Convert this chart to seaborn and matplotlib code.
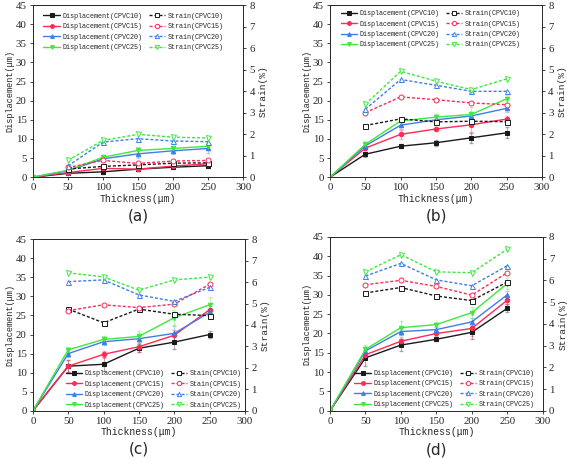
import numpy as np
import pandas as pd
import seaborn as sns
import matplotlib.pyplot as plt

# thickness values
thick = [0, 50, 100, 150, 200, 250]
thick_s = [50, 100, 150, 200, 250]
groups = ["CPVC10", "CPVC15", "CPVC20", "CPVC25"]

# displacement (um), per panel, per group
disp_a = [[0, 1.0, 1.4, 2.1, 2.6, 3.0],
          [0, 1.2, 2.3, 2.1, 2.9, 3.5],
          [0, 1.7, 4.8, 6.1, 6.9, 7.5],
          [0, 1.8, 5.2, 7.0, 7.5, 8.1]]
disp_b = [[0, 6.0, 8.1, 9.0, 10.3, 11.6],
          [0, 7.6, 11.2, 12.6, 13.7, 15.2],
          [0, 8.2, 13.6, 15.0, 16.0, 18.0],
          [0, 8.6, 14.7, 15.7, 16.4, 20.5]]
disp_c = [[0, 11.7, 12.2, 16.4, 18.0, 20.0],
          [0, 11.7, 14.8, 16.8, 19.8, 26.5],
          [0, 15.0, 18.1, 18.9, 20.3, 25.8],
          [0, 16.0, 18.7, 19.5, 24.4, 27.8]]
disp_d = [[0, 13.7, 17.0, 18.5, 20.3, 26.5],
          [0, 14.5, 18.0, 20.0, 21.3, 28.6],
          [0, 15.5, 20.5, 21.0, 23.0, 30.0],
          [0, 15.9, 21.5, 22.3, 25.4, 32.9]]

# error bars on displacement
err_a = [[0, 0.3, 0.5, 0.4, 0.4, 0.5],
         [0, 0.3, 0.5, 0.4, 0.5, 0.5],
         [0, 0.4, 0.6, 1.0, 0.8, 1.2],
         [0, 0.4, 0.6, 0.9, 0.7, 0.8]]
err_b = [[0, 0.6, 0.5, 0.8, 1.3, 1.4],
         [0, 0.6, 1.2, 0.6, 1.8, 0.8],
         [0, 0.6, 0.9, 0.6, 1.0, 0.9],
         [0, 0.6, 0.8, 0.7, 2.0, 1.0]]
err_c = [[0, 1.5, 1.8, 1.0, 1.7, 1.0],
         [0, 1.5, 1.0, 1.5, 1.5, 1.0],
         [0, 1.0, 0.8, 1.0, 2.0, 1.2],
         [0, 0.8, 0.8, 1.5, 2.0, 2.0]]
err_d = [[0, 2.0, 1.5, 0.5, 1.7, 1.0],
         [0, 1.0, 1.0, 0.6, 2.0, 1.0],
         [0, 1.0, 1.0, 0.6, 1.0, 1.0],
         [0, 1.0, 1.8, 0.6, 1.5, 1.5]]

# strain (%), starting at 50 um
strain_a = [[0.38, 0.50, 0.57, 0.65, 0.67],
            [0.45, 0.78, 0.64, 0.75, 0.78],
            [0.52, 1.63, 1.79, 1.68, 1.65],
            [0.78, 1.71, 1.99, 1.86, 1.82]]
strain_b = [[2.40, 2.71, 2.57, 2.60, 2.58],
            [3.00, 3.73, 3.60, 3.45, 3.37],
            [3.16, 4.54, 4.27, 3.99, 3.99],
            [3.39, 4.92, 4.46, 4.07, 4.57]]
strain_c = [[4.74, 4.10, 4.74, 4.50, 4.44],
            [4.67, 4.94, 4.81, 4.97, 5.90],
            [6.02, 6.10, 5.40, 5.10, 5.75],
            [6.43, 6.24, 5.62, 6.10, 6.23]]
strain_d = [[5.42, 5.67, 5.28, 5.07, 5.92],
            [5.80, 6.00, 5.72, 5.32, 6.35],
            [6.20, 6.78, 6.02, 5.75, 6.67],
            [6.39, 7.18, 6.39, 6.35, 7.43]]

colors = ["#1a1a1a", "#ff2a55", "#3d7fe6", "#3ee83e"]
markers = ["s", "o", "^", "v"]

sns.set_theme(style="ticks")
plt.rcParams["font.family"] = ["Liberation Serif", "DejaVu Serif"]

fig = plt.figure(figsize=(5.67, 4.59), dpi=100)

# tag, data, strain prefix, axes rect, legend anchor (upper left corner, axes coords)
panels = [
    ("(a)", disp_a, err_a, strain_a, "Strain", [0.058, 0.614, 0.371, 0.375], (0.05, 0.955)),
    ("(b)", disp_b, err_b, strain_b, "Strain", [0.582, 0.614, 0.374, 0.375], (0.05, 0.97)),
    ("(c)", disp_c, err_c, strain_c, "Stain", [0.058, 0.105, 0.374, 0.374], (0.155, 0.235)),
    ("(d)", disp_d, err_d, strain_d, "Strain", [0.582, 0.105, 0.375, 0.379], (0.115, 0.235)),
]

mono = "Liberation Mono"

for tag, disp, err, strain, sname, pos, anchor in panels:
    ax = fig.add_axes(pos)
    ax2 = ax.twinx()
    handles = []
    for i, g in enumerate(groups):
        ax.errorbar(thick, disp[i], yerr=err[i], fmt="none", ecolor=colors[i],
                    alpha=0.35, elinewidth=0.8, capsize=1.5, zorder=2)
        df = pd.DataFrame({"x": thick, "y": disp[i]})
        sns.lineplot(data=df, x="x", y="y", ax=ax, color=colors[i], marker=markers[i],
                     markersize=3.2, markeredgecolor=colors[i], linewidth=1.0,
                     legend=False, zorder=3)
        ax.lines[-1].set_label(f"Displacement({g})")
        handles.append(ax.lines[-1])
    for i, g in enumerate(groups):
        df = pd.DataFrame({"x": thick_s, "y": strain[i]})
        sns.lineplot(data=df, x="x", y="y", ax=ax2, color=colors[i], marker=markers[i],
                     markersize=3.6, markerfacecolor="white", markeredgecolor=colors[i],
                     markeredgewidth=0.7, linewidth=1.0, linestyle=(0, (2.2, 1.4)),
                     legend=False)
        ax2.lines[-1].set_label(f"{sname}({g})")
        handles.append(ax2.lines[-1])

    ax.set_xlim(0, 300)
    ax.set_ylim(0, 45)
    ax2.set_ylim(0, 8)
    ax.set_xticks(range(0, 301, 50))
    ax.set_yticks(range(0, 46, 5))
    ax2.set_yticks(range(0, 9))
    ax.tick_params(labelsize=7.8, length=2.5, width=0.6, pad=2)
    ax2.tick_params(labelsize=7.8, length=2.5, width=0.6, pad=2)
    for a in (ax, ax2):
        for s in a.spines.values():
            s.set_linewidth(0.6)
    ax.set_xlabel("Thickness(μm)", fontsize=7, family=mono, labelpad=1)
    ax.set_ylabel("Displacement(μm)", fontsize=6.2, family=mono, labelpad=1)
    ax2.set_ylabel("Strain(%)", fontsize=6.8, family=mono, labelpad=3)
    ax.text(0.5, -0.225, tag, transform=ax.transAxes, ha="center", va="center",
            fontsize=11, family="DejaVu Sans")

    ax2.legend(handles, [h.get_label() for h in handles],
               loc="upper left", bbox_to_anchor=anchor, ncol=2, frameon=False,
               prop={"family": mono, "size": 4.9}, handlelength=2.4,
               handletextpad=0.4, columnspacing=0.9, labelspacing=0.5,
               borderaxespad=0.0, borderpad=0.0, markerscale=0.85)

fig.savefig("out.png", dpi=100)
